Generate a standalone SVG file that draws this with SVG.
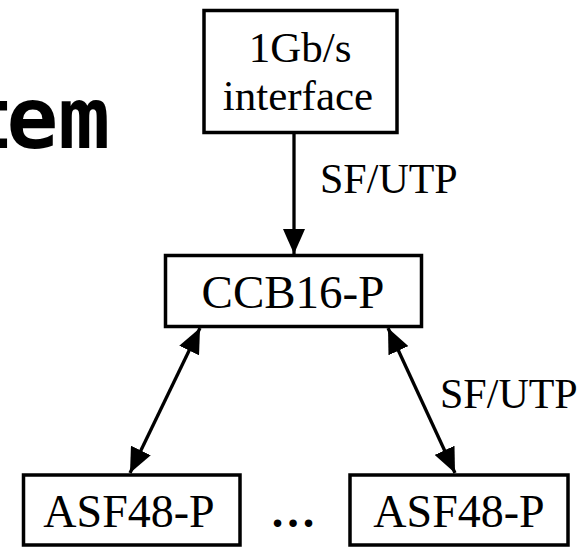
<svg xmlns="http://www.w3.org/2000/svg" width="582" height="548" viewBox="0 0 582 548">
  <style>
    .box { fill: #fff; stroke: #000; stroke-width: 3.5; }
    .lbl { font-family: "Liberation Serif", "Times New Roman", serif; fill: #000; }
    .wire { stroke: #000; stroke-width: 3.3; fill: none; }
    .title { font-family: "DejaVu Sans Mono", monospace; font-weight: bold; fill: #000; }
  </style>
  <defs>
    <marker id="head" viewBox="0 0 25 22" refX="25" refY="11" markerWidth="25" markerHeight="22" markerUnits="userSpaceOnUse" orient="auto-start-reverse">
      <path d="M0,0 L25,11 L0,22 Z" fill="#000"/>
    </marker>
  </defs>
  <rect width="582" height="548" fill="#fff"/>

  <!-- heading fragment running in from the left edge -->
  <text class="title" x="-38 6.4 58.2" y="148" font-size="86">tem</text>

  <g id="connectors">
    <line class="wire" x1="294" y1="134" x2="294" y2="254" marker-end="url(#head)"/>
    <line class="wire" x1="200" y1="328" x2="130" y2="473" marker-start="url(#head)" marker-end="url(#head)"/>
    <line class="wire" x1="388" y1="328" x2="455" y2="473" marker-start="url(#head)" marker-end="url(#head)"/>
    <text class="lbl" x="320" y="193" font-size="42">SF/UTP</text>
    <text class="lbl" x="440" y="408" font-size="42">SF/UTP</text>
  </g>

  <g id="interface">
    <rect class="box" x="204" y="10.5" width="193" height="122"/>
    <text class="lbl" x="300" y="62" font-size="43" text-anchor="middle">1Gb/s</text>
    <text class="lbl" x="298" y="110" font-size="43" text-anchor="middle">interface</text>
  </g>

  <g id="ccb16p">
    <rect class="box" x="165.5" y="255.5" width="256" height="71"/>
    <text class="lbl" x="293" y="308" font-size="47" text-anchor="middle">CCB16-P</text>
  </g>

  <g id="asf48p-first">
    <rect class="box" x="23.5" y="475" width="216.5" height="70"/>
    <text class="lbl" x="129" y="527" font-size="46" text-anchor="middle">ASF48-P</text>
  </g>

  <g id="ellipsis">
    <text class="lbl" x="293" y="527" font-size="46" font-weight="bold" text-anchor="middle">…</text>
  </g>

  <g id="asf48p-last">
    <rect class="box" x="350" y="475" width="218" height="70"/>
    <text class="lbl" x="459" y="527" font-size="46" text-anchor="middle">ASF48-P</text>
  </g>
</svg>
